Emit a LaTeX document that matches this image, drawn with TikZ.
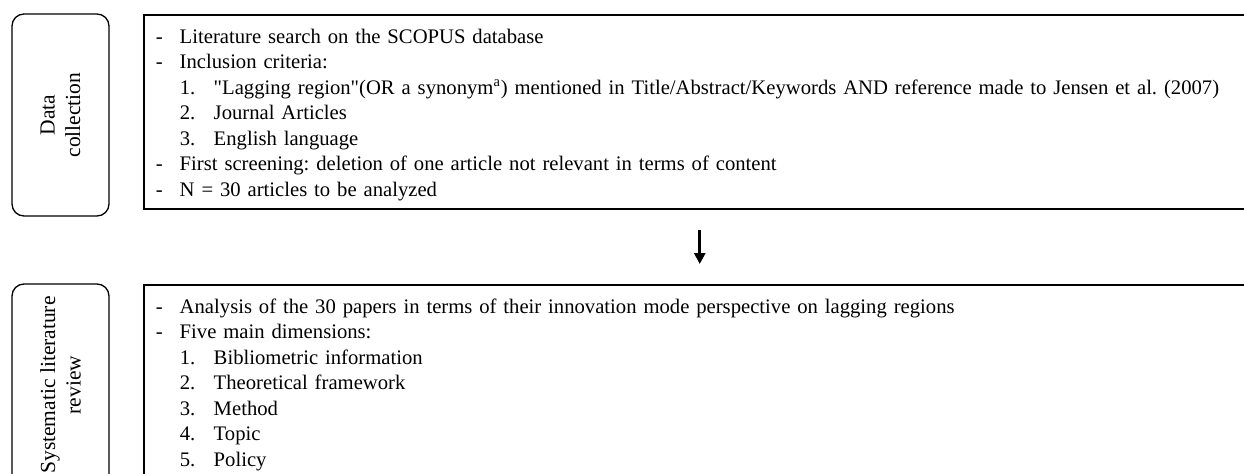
\documentclass[tikz,border=0pt]{standalone}
\usepackage{fontspec}
\setmainfont{Liberation Serif}[Ligatures=TeXOff]
\usetikzlibrary{arrows.meta}
\frenchspacing
\newcommand{\dashitem}[1]{\makebox[14.4pt][l]{-}#1}
\newcommand{\numitem}[2]{\hspace*{14.4pt}\makebox[20.4pt][l]{#1}#2}

\begin{document}
\begin{tikzpicture}[x=0.6pt,y=-0.6pt,
  every node/.style={font=\fontsize{12.4}{15.3}\selectfont},
  stagebox/.style={draw,line width=0.8pt,rounded corners=7.2pt,rotate=90,
    minimum width=121.2pt,minimum height=58.2pt,align=center,inner sep=0pt,
    font=\fontsize{12.9}{15.3}\selectfont},
  listbox/.style={draw,line width=0.9pt,anchor=north west,minimum width=667.2pt,
    minimum height=116.4pt,text width=652.8pt,inner xsep=7.2pt,inner ysep=0pt,align=left,
    execute at begin node=\rule{0pt}{12pt}}]
\useasboundingbox (0,0) rectangle (1244,474);
\clip (0,0) rectangle (1244,474);

\node[stagebox] (collect) at (60.5,115) {Data\\collection};
\node[stagebox] (review) at (60.5,385) {Systematic literature\\review};

\node[listbox] (search) at (143,14) {%
  \dashitem{Literature search on the SCOPUS database}\\
  \dashitem{Inclusion criteria:}\\
  \numitem{1.}{"Lagging region"(OR a synonym\textsuperscript{a}) mentioned in Title/Abstract/Keywords AND reference made to Jensen et al. (2007)}\\
  \numitem{2.}{Journal Articles}\\
  \numitem{3.}{English language}\\
  \dashitem{First screening: deletion of one article not relevant in terms of content}\\
  \dashitem{N = 30 articles to be analyzed}};

\node[listbox] (analysis) at (143,284) {%
  \dashitem{Analysis of the 30 papers in terms of their innovation mode perspective on lagging regions}\\
  \dashitem{Five main dimensions:}\\
  \numitem{1.}{Bibliometric information}\\
  \numitem{2.}{Theoretical framework}\\
  \numitem{3.}{Method}\\
  \numitem{4.}{Topic}\\
  \numitem{5.}{Policy}};

\draw[line width=1.7pt,-{Triangle[width=6.5pt,length=6.5pt]},shorten <=12pt,shorten >=12pt] (search) -- (analysis);
\end{tikzpicture}
\end{document}
